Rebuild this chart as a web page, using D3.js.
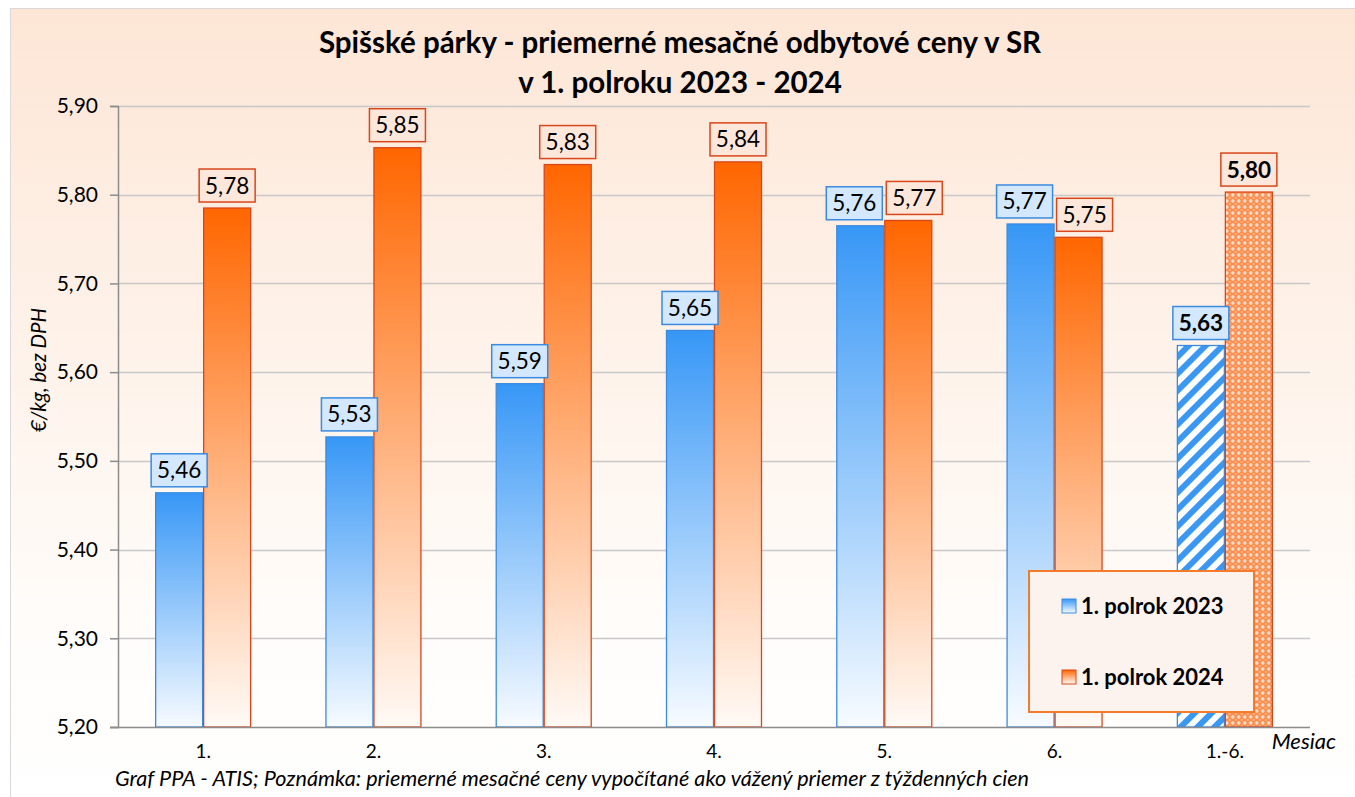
<!DOCTYPE html>
<html><head><meta charset="utf-8">
<script src="https://cdn.jsdelivr.net/npm/d3@7"></script>
<style>body{margin:0;background:#fff}svg{display:block}text{font-family:Lato,"Open Sans",sans-serif}</style>
</head><body><svg id="c" width="1355" height="797"></svg>
<script>
const categories = ["1.","2.","3.","4.","5.","6.","1.-6."];
const series = ["1. polrok 2023","1. polrok 2024"];
const values2023 = [5.464,5.527,5.587,5.647,5.765,5.767,5.630];
const values2024 = [5.785,5.853,5.834,5.837,5.771,5.752,5.803];
const labels2023 = ["5,46","5,53","5,59","5,65","5,76","5,77","5,63"];
const labels2024 = ["5,78","5,85","5,83","5,84","5,77","5,75","5,80"];
const yTicks = [5.2,5.3,5.4,5.5,5.6,5.7,5.8,5.9];
const yTickLabels = ["5,20","5,30","5,40","5,50","5,60","5,70","5,80","5,90"];
const title = ["Spišské párky - priemerné mesačné odbytové ceny v SR","v 1. polroku 2023 - 2024"];
const yTitle = "€/kg, bez DPH";
const xTitle = "Mesiac";
const footnote = "Graf PPA - ATIS; Poznámka: priemerné mesačné ceny vypočítané ako vážený priemer z týždenných cien";

const svg = d3.select("#c");
const defs = svg.append("defs");
function lg(id, stops){const g=defs.append("linearGradient").attr("id",id).attr("x1",0).attr("y1",0).attr("x2",0).attr("y2",1);
  stops.forEach(s=>g.append("stop").attr("offset",s[0]).attr("stop-color",s[1]));}
lg("bg",[[0,"#fde6d6"],[0.8,"#fffdfb"],[1,"#ffffff"]]);
lg("gb",[[0,"#3797f6"],[1,"#f7fbff"]]);
lg("go",[[0,"#ff6600"],[1,"#fffaf6"]]);
const pb = defs.append("pattern").attr("id","pb").attr("patternUnits","userSpaceOnUse").attr("width",12).attr("height",12).attr("patternTransform","rotate(45)");
pb.append("rect").attr("width",12).attr("height",12).attr("fill","#fff");
pb.append("rect").attr("width",6).attr("height",12).attr("fill","#3a98f2");
const po = defs.append("pattern").attr("id","po").attr("patternUnits","userSpaceOnUse").attr("width",6).attr("height",6);
po.append("rect").attr("width",6).attr("height",6).attr("fill","#fb8d4c");
po.append("path").attr("d","M3,1 L3,5 M1,3 L5,3").attr("stroke","#fff2ea").attr("stroke-width",1.2);
po.append("path").attr("d","M0,0 L1,0 L0,1 Z M6,0 L5,0 L6,1Z M0,6 L1,6 L0,5Z M6,6 L5,6 L6,5Z").attr("fill","#fde0cf");

svg.append("rect").attr("x",10.5).attr("y",8.5).attr("width",1360).attr("height",800).attr("fill","url(#bg)").attr("stroke","#d9d9d9");

const L=118,R=1310,T=106,B=727;
const y = d3.scaleLinear().domain([5.2,5.9]).range([B,T]);
const x = d3.scaleBand().domain(categories).range([L,R]).padding(0);
const bw = 48;
const xs = d3.scaleBand().domain(series).range([x.bandwidth()/2-bw, x.bandwidth()/2+bw]).padding(0);

// grid
svg.append("g").selectAll("line").data(yTicks.slice(1)).join("line")
  .attr("x1",L).attr("x2",R).attr("y1",d=>Math.round(y(d))+0.5).attr("y2",d=>Math.round(y(d))+0.5)
  .attr("stroke","#c8c8c8").attr("stroke-width",1.5);

// y axis
const yAxis = d3.axisLeft(y).tickValues(yTicks).tickSize(8).tickFormat((d,i)=>yTickLabels[i]);
const ga = svg.append("g").attr("transform",`translate(${L},0)`).call(yAxis);
ga.select(".domain").attr("stroke","#8c8c8c").attr("stroke-width",1.5);
ga.selectAll(".tick line").attr("stroke","#8c8c8c").attr("stroke-width",1.5);
ga.selectAll(".tick text").attr("font-size",21).attr("fill","#000").attr("x",-20).attr("font-family","Lato");

// bars
const data = categories.map((c,i)=>({c,i,v:[values2023[i],values2024[i]],l:[labels2023[i],labels2024[i]]}));
const grp = svg.append("g").selectAll("g").data(data).join("g").attr("transform",d=>`translate(${x(d.c)},0)`);
grp.selectAll("rect").data(d=>series.map((s,k)=>({s,k,v:d.v[k],last:d.i===categories.length-1}))).join("rect")
  .attr("x",d=>xs(d.s)+0.5).attr("width",xs.bandwidth()-1)
  .attr("y",d=>y(d.v)).attr("height",d=>B-y(d.v))
  .attr("fill",d=>d.last?(d.k?"url(#po)":"url(#pb)"):(d.k?"url(#go)":"url(#gb)"))
  .attr("stroke",d=>d.k?"#d8471b":"#3a8be0").attr("stroke-width",1.3);

// x axis
const xAxis = d3.axisBottom(x).tickSize(0).tickPadding(18);
const gx = svg.append("g").attr("transform",`translate(0,${B})`).call(xAxis);
gx.select(".domain").attr("d",`M${L-8},0.5H${R}`).attr("stroke","#8c8c8c").attr("stroke-width",1.5);
gx.selectAll(".tick text").attr("font-size",19).attr("fill","#000").attr("font-family","Lato");

// labels with collision avoidance
const bw2=56, bh=33;
data.forEach(d=>{
  const last = d.i===categories.length-1;
  const boxes = series.map((s,k)=>{
    const cx = x(d.c)+xs(s)+xs.bandwidth()/2;
    const bot = y(d.v[k]) - 6;
    return {k, cx, top: bot-bh, bot, t:d.l[k]};
  });
  const [a,b]=boxes;
  if (!(a.bot < b.top || b.bot < a.top)) {
    const overlap = (a.cx+bw2/2+4) - (b.cx-bw2/2);
    if (overlap>0){a.cx-=overlap/2;b.cx+=overlap/2;}
  }
  boxes.forEach(bx=>{
    svg.append("rect").attr("x",bx.cx-bw2/2).attr("y",bx.top).attr("width",bw2).attr("height",bh)
      .attr("fill",bx.k?"#fde7da":"#d3e8fd").attr("stroke",bx.k?"#d8471b":"#3a8be0").attr("stroke-width",1.5);
    svg.append("text").attr("x",bx.cx).attr("y",bx.top+bh/2+8).attr("text-anchor","middle")
      .attr("font-size",22.5).attr("font-weight",last?"bold":"normal").attr("fill","#000").text(bx.t);
  });
});

// title
svg.append("g").selectAll("text").data(title).join("text")
  .attr("x",680).attr("y",(d,i)=>53+i*40).attr("text-anchor","middle")
  .attr("font-size",29.5).attr("font-weight","bold").attr("fill","#000").text(d=>d);

// axis titles
svg.append("text").attr("transform","translate(46,370) rotate(-90)").attr("text-anchor","middle")
  .attr("font-size",20.5).attr("font-style","italic").attr("fill","#000").text(yTitle);
svg.append("text").attr("x",1336).attr("y",749).attr("text-anchor","end")
  .attr("font-size",22).attr("font-style","italic").attr("fill","#000").text(xTitle);
svg.append("text").attr("x",115).attr("y",786)
  .attr("font-size",21.6).attr("font-style","italic").attr("fill","#000").text(footnote);

// legend
const lgd = svg.append("g").attr("transform","translate(1029,571)");
lgd.append("rect").attr("width",225).attr("height",141).attr("fill","#fdf3ee").attr("stroke","#f47a2c").attr("stroke-width",2);
series.forEach((s,k)=>{
  const yy = 35 + k*71;
  lgd.append("rect").attr("x",33).attr("y",yy-7).attr("width",14).attr("height",14)
    .attr("fill",k?"url(#go)":"url(#gb)").attr("stroke",k?"#d8471b":"#3a8be0");
  lgd.append("text").attr("x",52).attr("y",yy+8).attr("font-size",22).attr("font-weight","bold").attr("fill","#000").text(s);
});
</script></body></html>
